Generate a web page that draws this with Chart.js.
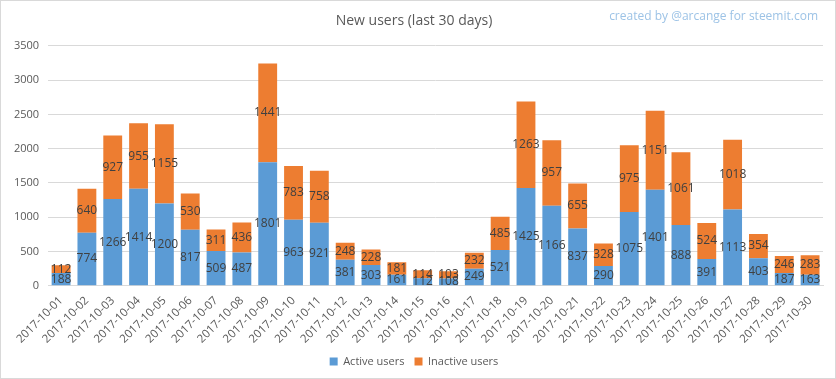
<!DOCTYPE html>
<html lang="en">
<head>
  <meta charset="utf-8">
  <title>New users</title>
  <style>
    body { margin: 0; background: #fff; }
    #wrap { position: relative; width: 834px; height: 377px; border: 1px solid #d9d9d9; }
    #credit { position: absolute; right: 17px; top: 6px; font: 12px "Open Sans", sans-serif; color: #9dc3e6; }
  </style>
</head>

<body>
  <div id="wrap">
    <canvas id="myChart" width="834" height="377"></canvas>
    <div id="credit">created by @arcange for steemit.com</div>
  </div>

  <script src="https://cdn.jsdelivr.net/npm/chart.js@4"></script>
  <script>
    var days = ['2017-10-01', '2017-10-02', '2017-10-03', '2017-10-04', '2017-10-05', '2017-10-06',
      '2017-10-07', '2017-10-08', '2017-10-09', '2017-10-10', '2017-10-11', '2017-10-12',
      '2017-10-13', '2017-10-14', '2017-10-15', '2017-10-16', '2017-10-17', '2017-10-18',
      '2017-10-19', '2017-10-20', '2017-10-21', '2017-10-22', '2017-10-23', '2017-10-24',
      '2017-10-25', '2017-10-26', '2017-10-27', '2017-10-28', '2017-10-29', '2017-10-30'];
    var activeUsers = [188, 774, 1266, 1414, 1200, 817, 509, 487, 1801, 963, 921, 381, 303, 161, 112,
      108, 249, 521, 1425, 1166, 837, 290, 1075, 1401, 888, 391, 1113, 403, 187, 163];
    var inactiveUsers = [112, 640, 927, 955, 1155, 530, 311, 436, 1441, 783, 758, 248, 228, 181, 114,
      103, 232, 485, 1263, 957, 655, 328, 975, 1151, 1061, 524, 1018, 354, 246, 283];
    var yTicks = [0, 500, 1000, 1500, 2000, 2500, 3000, 3500];

    var textColor = '#595959';
    var fontFamily = '"Open Sans", sans-serif';

    // writes each value in the middle of its bar segment
    var segmentLabels = {
      id: 'segmentLabels',
      afterDatasetsDraw: function(chart) {
        var ctx = chart.ctx;
        ctx.save();
        ctx.font = '12px ' + fontFamily;
        ctx.fillStyle = '#404040';
        ctx.textAlign = 'center';
        ctx.textBaseline = 'middle';
        chart.data.datasets.forEach(function(ds, i) {
          chart.getDatasetMeta(i).data.forEach(function(bar, j) {
            var mid = (bar.y + bar.base) / 2;
            ctx.fillText(ds.data[j], bar.x, mid);
          });
        });
        ctx.restore();
      }
    };

    var ctx = document.getElementById('myChart').getContext('2d');
    var chart = new Chart(ctx, {
      type: 'bar',
      data: {
        labels: days,
        datasets: [{
          label: 'Active users',
          backgroundColor: '#5b9bd5',
          data: activeUsers
        }, {
          label: 'Inactive users',
          backgroundColor: '#ed7d31',
          data: inactiveUsers
        }]
      },
      options: {
        responsive: false,
        animation: false,
        layout: { padding: { left: 4, right: 12, top: 8, bottom: 1 } },
        datasets: { bar: { categoryPercentage: 1, barPercentage: 0.73 } },
        plugins: {
          title: {
            display: true,
            text: 'New users (last 30 days)',
            color: textColor,
            font: { family: fontFamily, size: 14, weight: 'normal' },
            padding: { top: 4, bottom: 16 }
          },
          legend: {
            position: 'bottom',
            labels: {
              color: textColor,
              boxWidth: 8,
              boxHeight: 8,
              padding: 10,
              font: { family: fontFamily, size: 11 }
            }
          },
          tooltip: { enabled: false }
        },
        scales: {
          x: {
            stacked: true,
            grid: { display: false },
            border: { color: '#d9d9d9' },
            ticks: {
              color: textColor,
              minRotation: 45,
              maxRotation: 45,
              autoSkip: false,
              padding: 0,
              font: { family: fontFamily, size: 11.5 }
            }
          },
          y: {
            stacked: true,
            min: 0,
            max: yTicks[yTicks.length - 1],
            afterBuildTicks: function(axis) {
              axis.ticks = yTicks.map(function(v) { return { value: v }; });
            },
            grid: { color: '#d9d9d9', drawTicks: false },
            border: { display: false },
            ticks: {
              color: textColor,
              padding: 9,
              font: { family: fontFamily, size: 11 },
              callback: function(v) { return String(v); }
            }
          }
        }
      },
      plugins: [segmentLabels]
    });
  </script>
</body>
</html>
